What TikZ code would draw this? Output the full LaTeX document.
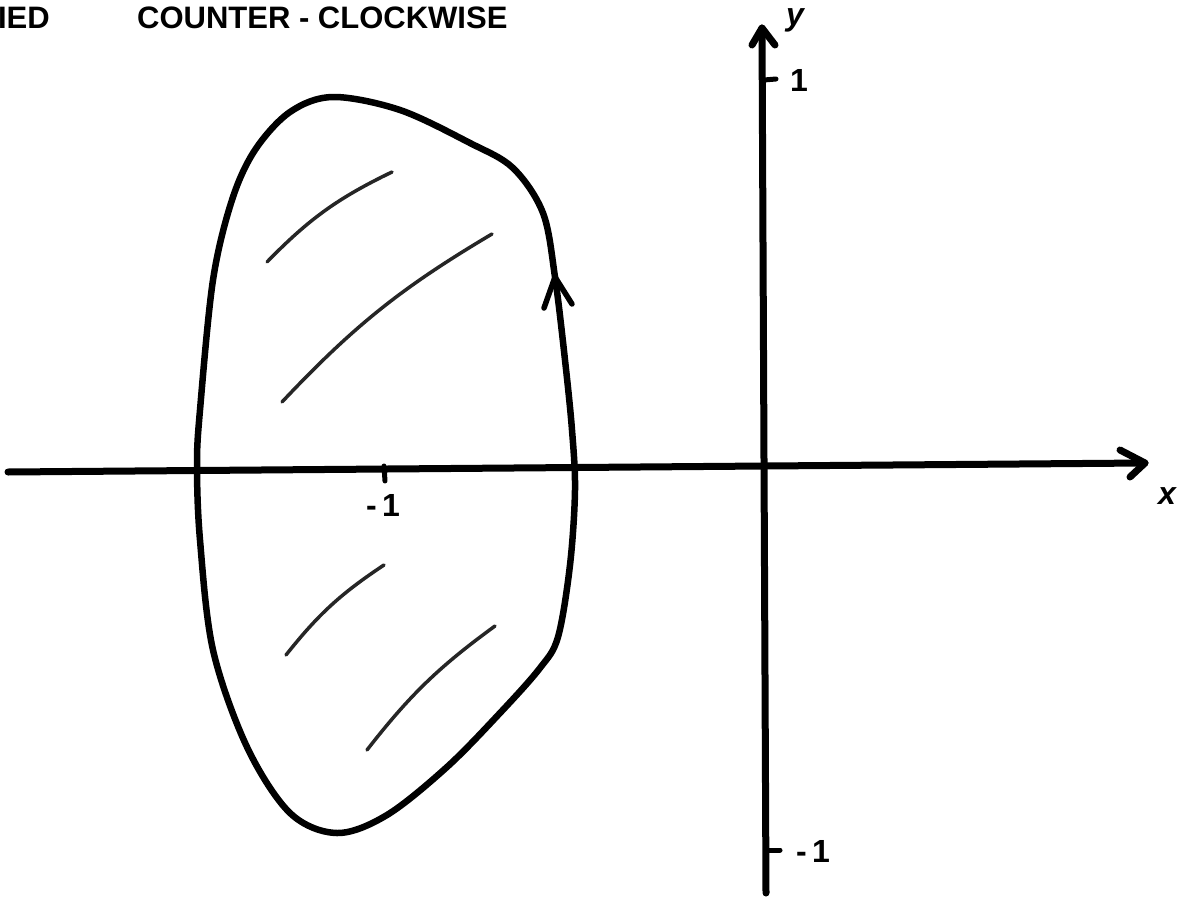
\documentclass[tikz,border=0pt]{standalone}
\usepackage{fontspec}
\setmainfont{Liberation Sans}
\begin{document}
\begin{tikzpicture}[x=1pt,y=-1pt,line cap=round,line join=round,
  axis/.style={line width=7pt,black},
  bound/.style={line width=6.5pt,black},
  hatch/.style={line width=3.5pt,black!85},
  lbl/.style={font=\bfseries\fontsize{31}{31}\selectfont,inner sep=0pt},
  small/.style={font=\bfseries\fontsize{32}{32}\selectfont,inner sep=0pt}]
\useasboundingbox (0,0) rectangle (1183,899);
% title text
\node[lbl,anchor=east] (t1) at (50,18) {IED};
\node[lbl,anchor=west] (t2) at (137,18) {COUNTER - CLOCKWISE};
% axes
\coordinate (xl) at (8,472);
\coordinate (xr) at (1145,463);
\coordinate (yb) at (766,893);
\coordinate (yt) at (762,28);
\draw[axis] (xl) -- (xr);
\draw[axis] (1120,450) -- (xr) -- (1130,477);
\draw[axis] (yb) -- (yt);
\draw[axis] (752,45) -- (yt) -- (775,45);
\node[small,anchor=center] (xlab) at (1167,496) {\itshape x};
\node[small,anchor=center] (ylab) at (795,20) {\itshape y};
% ticks
\coordinate (ty1) at (764,80);
\draw[line width=5pt] (ty1) -- (776,79);
\node[small] (l1) at (799,80) {1};
\coordinate (tym) at (766,850);
\draw[line width=5pt] (tym) -- (780,850);
\node[small,anchor=west] (lm1) at (796,851) {-\,1};
\coordinate (tx) at (384,466);
\draw[line width=5pt] (tx) -- (385,481);
\node[small] (lx) at (383,505) {-\,1};
% boundary curve
\draw[bound] plot[smooth cycle,tension=0.55] coordinates {
 (333,97) (400,110) (470,143) (513,168) (543,213) (555,277) (565,360)
 (572,430) (575,490) (570,565) (558,637) (540,668) (500,713) (447,767)
 (387,815) (337,833) (290,813) (247,747) (213,650) (200,540) (197,465)
 (200,410) (213,280) (232,200) (255,150) (290,112)};
% orientation arrow
\coordinate (at) at (555,277);
\draw[line width=5.5pt] (544,308) -- (at) -- (572,304);
% hatching
\draw[hatch] (267,262) to[bend left=10] (392,172);
\draw[hatch] (282,402) to[bend left=8] (492,234);
\draw[hatch] (286,655) to[bend left=9] (384,565);
\draw[hatch] (367,750) to[bend left=8] (495,626);
\end{tikzpicture}
\end{document}
